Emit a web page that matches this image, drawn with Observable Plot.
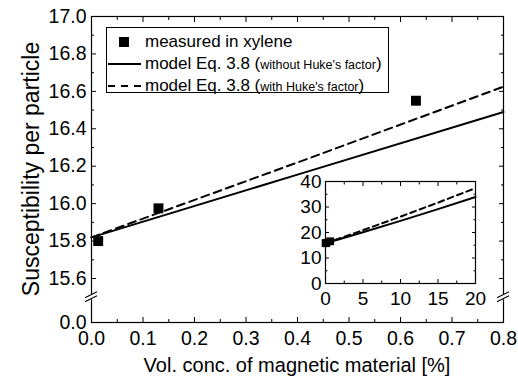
<!DOCTYPE html>
<html><head><meta charset="utf-8">
<script src="https://cdn.jsdelivr.net/npm/d3@7"></script>
<script src="https://cdn.jsdelivr.net/npm/@observablehq/plot@0.6"></script>
<style>
body{margin:0;background:#fff;font-family:"Liberation Sans",Arial,sans-serif;color:#000;}
#wrap{position:relative;width:518px;height:387px;overflow:hidden;}
#main{position:absolute;left:0;top:0;}
#inset{position:absolute;left:295px;top:171px;}
#legend{position:absolute;left:106px;top:27px;width:283px;height:66px;border:1px solid #000;box-sizing:border-box;background:#fff;font-size:17px;}
#legend .row{position:absolute;left:0;height:20px;line-height:20px;white-space:nowrap;}
#legend .row svg{position:absolute;left:0;top:0;}
#legend .row span.t{position:absolute;left:38px;top:0;}
#legend small{font-size:12.5px;}
#xlabel{position:absolute;left:91px;width:412px;top:354px;text-align:center;font-size:20px;}
#ylabel{position:absolute;left:31px;top:169px;font-size:23px;white-space:nowrap;transform:translate(-50%,-50%) rotate(-90deg);}
</style>
</head><body>
<div id="wrap">
  <div id="main"></div>
  <div id="inset"></div>
  <div id="legend">
    <div class="row" style="top:4px"><svg width="36" height="20"><rect x="12" y="5" width="10" height="10" fill="#000"/></svg><span class="t">measured in xylene</span></div>
    <div class="row" style="top:26px"><svg width="36" height="20"><line x1="1" x2="34" y1="10" y2="10" stroke="#000" stroke-width="2"/></svg><span class="t">model Eq. 3.8 (<small>without Huke's factor</small>)</span></div>
    <div class="row" style="top:48px"><svg width="36" height="20"><line x1="1" x2="34" y1="10" y2="10" stroke="#000" stroke-width="2" stroke-dasharray="7,6"/></svg><span class="t">model Eq. 3.8 (<small>with Huke's factor</small>)</span></div>
  </div>
  <div id="xlabel">Vol. conc. of magnetic material [%]</div>
  <div id="ylabel">Susceptibility per particle</div>
</div>
<script>
// measured points
const measX = [0.013, 0.13, 0.63];
const measY = [15.80, 15.975, 16.55];
// model curves (Eq. 3.8)
const modelX = [0, 0.4, 0.8, 5, 10, 15, 20];
const modelNoHuke = [15.82, 16.155, 16.49, 20.1, 24.55, 29.15, 33.9];
const modelHuke = [15.82, 16.22, 16.625, 20.92, 26.22, 31.72, 37.42];
// main ticks
const mainXTicks = [0, 0.1, 0.2, 0.3, 0.4, 0.5, 0.6, 0.7, 0.8];
const mainXMinor = [0.05, 0.15, 0.25, 0.35, 0.45, 0.55, 0.65, 0.75];
const mainYTicks = [0, 15.6, 15.8, 16.0, 16.2, 16.4, 16.6, 16.8, 17.0];
const mainYMinor = [15.7, 15.9, 16.1, 16.3, 16.5, 16.7, 16.9];
const breakValue = 15.5;
// inset ticks
const insetXTicks = [0, 5, 10, 15, 20];
const insetXMinor = [2.5, 7.5, 12.5, 17.5];
const insetYTicks = [0, 10, 20, 30, 40];
const insetYMinor = [5, 15, 25, 35];

const meas = measX.map((x, i) => ({x, y: measY[i]}));
const model = modelX.map((x, i) => ({x, a: modelNoHuke[i], b: modelHuke[i]}));
const modelMain = model.filter(d => d.x <= 0.8);
const fmt1 = d3.format(".1f");

const W = 518, H = 387, mL = 91, mR = 15, mT = 16, mB = 65;
const yBottom = H - mB;
const main = Plot.plot({
  width: W, height: H, marginLeft: mL, marginRight: mR, marginTop: mT, marginBottom: mB,
  style: {fontFamily: "'Liberation Sans', Arial, sans-serif", fontSize: "19.5px", color: "#000", background: "transparent"},
  x: {domain: [0, 0.8]},
  y: {type: "linear", domain: [0, 15.42, 17], range: [yBottom, 311.7, mT]},
  marks: [
    Plot.axisX(mainXTicks, {anchor: "bottom", tickSize: -5, tickPadding: 14, tickFormat: fmt1, fontSize: 19.5, label: null}),
    Plot.axisX(mainXMinor, {anchor: "bottom", tickSize: -3, text: null, label: null}),
    Plot.axisX(mainXTicks, {anchor: "top", tickSize: -5, text: null, label: null}),
    Plot.axisX(mainXMinor, {anchor: "top", tickSize: -3, text: null, label: null}),
    Plot.axisY(mainYTicks, {anchor: "left", tickSize: -5, tickPadding: 10, tickFormat: fmt1, fontSize: 19.5, label: null}),
    Plot.axisY(mainYMinor, {anchor: "left", tickSize: -3, text: null, label: null}),
    Plot.axisY(mainYTicks.filter(d => d > 0), {anchor: "right", tickSize: -5, text: null, label: null}),
    Plot.axisY(mainYMinor, {anchor: "right", tickSize: -3, text: null, label: null}),
    Plot.frame({stroke: "#000", strokeWidth: 1.2}),
    Plot.line(modelMain, {x: "x", y: "a", stroke: "#000", strokeWidth: 2}),
    Plot.line(modelMain, {x: "x", y: "b", stroke: "#000", strokeWidth: 2, strokeDasharray: "8,5"}),
    Plot.dot(meas, {x: "x", y: "y", symbol: "square", r: 5.6, fill: "#000", stroke: "none"})
  ]
});
document.getElementById("main").appendChild(main);

// axis break marks
const svg = d3.select(main);
const yb = main.scale("y").apply(breakValue);
[main.scale("x").apply(0), main.scale("x").apply(0.8)].forEach(xp => {
  svg.append("rect").attr("x", xp - 3).attr("y", yb - 2.5).attr("width", 6).attr("height", 5).attr("fill", "#fff");
  svg.append("line").attr("x1", xp - 6).attr("y1", yb + 5).attr("x2", xp + 6).attr("y2", yb - 1).attr("stroke", "#000").attr("stroke-width", 1.2);
  svg.append("line").attr("x1", xp - 6).attr("y1", yb + 1).attr("x2", xp + 6).attr("y2", yb - 5).attr("stroke", "#000").attr("stroke-width", 1.2);
});

const inset = Plot.plot({
  width: 194, height: 140, marginLeft: 30, marginRight: 14, marginTop: 10, marginBottom: 28,
  style: {fontFamily: "'Liberation Sans', Arial, sans-serif", fontSize: "19px", color: "#000", background: "transparent"},
  x: {domain: [0, 20]},
  y: {domain: [0, 40]},
  marks: [
    Plot.axisX(insetXTicks, {anchor: "bottom", tickSize: -4, tickPadding: 12, fontSize: 19, label: null}),
    Plot.axisX(insetXMinor, {anchor: "bottom", tickSize: -2.5, text: null, label: null}),
    Plot.axisX(insetXTicks, {anchor: "top", tickSize: -4, text: null, label: null}),
    Plot.axisX(insetXMinor, {anchor: "top", tickSize: -2.5, text: null, label: null}),
    Plot.axisY(insetYTicks, {anchor: "left", tickSize: -4, tickPadding: 8, fontSize: 19, label: null}),
    Plot.axisY(insetYMinor, {anchor: "left", tickSize: -2.5, text: null, label: null}),
    Plot.axisY(insetYTicks, {anchor: "right", tickSize: -4, text: null, label: null}),
    Plot.axisY(insetYMinor, {anchor: "right", tickSize: -2.5, text: null, label: null}),
    Plot.frame({stroke: "#000", strokeWidth: 1.2}),
    Plot.line(model, {x: "x", y: "a", stroke: "#000", strokeWidth: 2}),
    Plot.line(model, {x: "x", y: "b", stroke: "#000", strokeWidth: 2, strokeDasharray: "6,4"}),
    Plot.dot(meas, {x: "x", y: "y", symbol: "square", r: 4.4, fill: "#000", stroke: "none"})
  ]
});
document.getElementById("inset").appendChild(inset);
</script>
</body></html>
